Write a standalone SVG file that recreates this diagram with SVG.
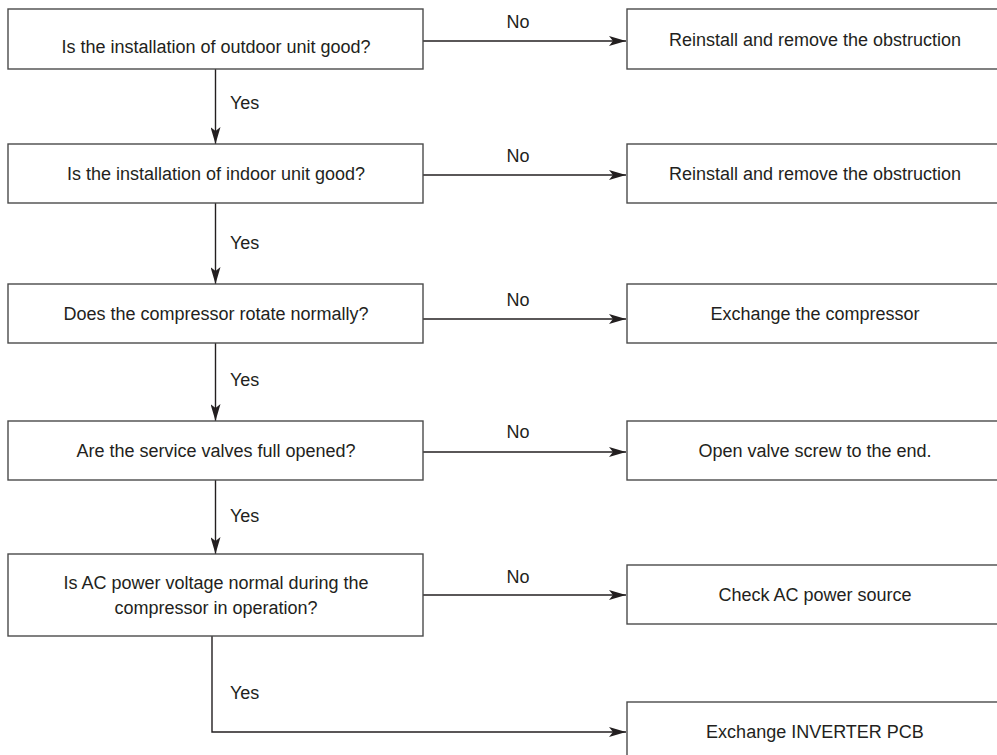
<svg xmlns="http://www.w3.org/2000/svg" width="997" height="755" viewBox="0 0 997 755">
<style>
.box{fill:#fff;stroke:#4a4a4a;stroke-width:1.4}
.t{font-family:"Liberation Sans",Arial,sans-serif;font-size:18px;fill:#231f20;text-anchor:middle}
.lbl{font-family:"Liberation Sans",Arial,sans-serif;font-size:18px;fill:#231f20}
.c{fill:none;stroke:#231f20;stroke-width:1.4}
</style>
<defs>
<marker id="ah" viewBox="0 0 17 10" refX="17" refY="5" markerWidth="17" markerHeight="10" markerUnits="userSpaceOnUse" orient="auto">
<path d="M0,0 L17,5 L0,10 L4,5 Z" fill="#231f20"/>
</marker>
</defs>
<rect width="997" height="755" fill="#fff"/>
<g id="connectors">
<path class="c" d="M423,41 H626" marker-end="url(#ah)"/>
<path class="c" d="M423,175 H626" marker-end="url(#ah)"/>
<path class="c" d="M423,319 H626" marker-end="url(#ah)"/>
<path class="c" d="M423,452 H626" marker-end="url(#ah)"/>
<path class="c" d="M423,595 H626" marker-end="url(#ah)"/>
<path class="c" d="M215.5,69 V144" marker-end="url(#ah)"/>
<path class="c" d="M215.5,203 V284" marker-end="url(#ah)"/>
<path class="c" d="M215.5,343 V421" marker-end="url(#ah)"/>
<path class="c" d="M215.5,480 V554" marker-end="url(#ah)"/>
<path class="c" d="M212,636 V732 H626" marker-end="url(#ah)"/>
<text class="lbl" x="518" y="28" text-anchor="middle">No</text>
<text class="lbl" x="518" y="162" text-anchor="middle">No</text>
<text class="lbl" x="518" y="306" text-anchor="middle">No</text>
<text class="lbl" x="518" y="438" text-anchor="middle">No</text>
<text class="lbl" x="518" y="583" text-anchor="middle">No</text>
<text class="lbl" x="230" y="109">Yes</text>
<text class="lbl" x="230" y="249">Yes</text>
<text class="lbl" x="230" y="386">Yes</text>
<text class="lbl" x="230" y="522">Yes</text>
<text class="lbl" x="230" y="699">Yes</text>
</g>
<g id="q1"><rect class="box" x="8" y="9" width="415" height="60"/><text class="t" x="216" y="53">Is the installation of outdoor unit good?</text></g>
<g id="q2"><rect class="box" x="8" y="144" width="415" height="59"/><text class="t" x="216" y="180">Is the installation of indoor unit good?</text></g>
<g id="q3"><rect class="box" x="8" y="284" width="415" height="59"/><text class="t" x="216" y="320">Does the compressor rotate normally?</text></g>
<g id="q4"><rect class="box" x="8" y="421" width="415" height="59"/><text class="t" x="216" y="457">Are the service valves full opened?</text></g>
<g id="q5"><rect class="box" x="8" y="554" width="415" height="82"/><text class="t" x="216" y="589">Is AC power voltage normal during the</text><text class="t" x="216" y="614">compressor in operation?</text></g>
<g id="a1"><rect class="box" x="627" y="9" width="380" height="60"/><text class="t" x="815" y="45.5">Reinstall and remove the obstruction</text></g>
<g id="a2"><rect class="box" x="627" y="144" width="380" height="59"/><text class="t" x="815" y="180">Reinstall and remove the obstruction</text></g>
<g id="a3"><rect class="box" x="627" y="284" width="380" height="59"/><text class="t" x="815" y="320">Exchange the compressor</text></g>
<g id="a4"><rect class="box" x="627" y="421" width="380" height="59"/><text class="t" x="815" y="457">Open valve screw to the end.</text></g>
<g id="a5"><rect class="box" x="627" y="565" width="380" height="59"/><text class="t" x="815" y="601">Check AC power source</text></g>
<g id="a6"><rect class="box" x="627" y="702" width="380" height="60"/><text class="t" x="815" y="738">Exchange INVERTER PCB</text></g>
</svg>
